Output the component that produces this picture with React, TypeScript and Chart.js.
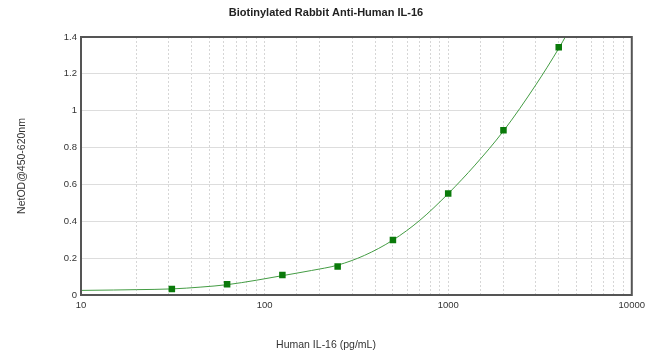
import React, { useEffect, useRef } from "react";
import { Chart, registerables } from "chart.js";

Chart.register(...registerables);

const TITLE = "Biotinylated Rabbit Anti-Human IL-16";
const X_TITLE = "Human IL-16 (pg/mL)";
const Y_TITLE = "NetOD@450-620nm";

const concentrations = [31.25, 62.5, 125, 250, 500, 1000, 2000, 4000];
const odValues = [0.032, 0.058, 0.108, 0.155, 0.299, 0.551, 0.894, 1.344];

const curveX = [10, 15, 20, 31.25, 45, 62.5, 90, 125, 180, 250, 350, 500, 700, 1000, 1400, 2000, 3000, 4000, 4400];
const curveY = [0.025, 0.027, 0.029, 0.033, 0.043, 0.056, 0.08, 0.105, 0.133, 0.162, 0.215, 0.298, 0.405, 0.55, 0.705, 0.89, 1.14, 1.338, 1.41];

const yTicks = [0, 0.2, 0.4, 0.6, 0.8, 1, 1.2, 1.4];
const xLabels = [10, 100, 1000, 10000];

const FONT = "'Liberation Sans', Arial, sans-serif";

export default function App() {
  const ref = useRef<HTMLCanvasElement>(null);

  useEffect(() => {
    document.body.style.margin = "0";
    const canvas = ref.current;
    if (!canvas) return;

    const framePlugin = {
      id: "frame",
      afterDraw(chart: any) {
        const { ctx, chartArea } = chart;
        ctx.save();
        ctx.strokeStyle = "#555555";
        ctx.lineWidth = 2;
        ctx.strokeRect(chartArea.left, chartArea.top, chartArea.right - chartArea.left, chartArea.bottom - chartArea.top);
        ctx.fillStyle = "#222222";
        ctx.textAlign = "center";
        ctx.textBaseline = "middle";
        ctx.font = `bold 11px ${FONT}`;
        ctx.fillText(TITLE, 326, 13);
        ctx.font = `10.5px ${FONT}`;
        ctx.fillStyle = "#333333";
        ctx.fillText(X_TITLE, 326, 345);
        ctx.restore();
      },
    };

    const chart = new Chart(canvas, {
      type: "line",
      data: {
        datasets: [
          {
            label: "curve",
            data: curveX.map((x, i) => ({ x, y: curveY[i] })),
            borderColor: "#449c44",
            borderWidth: 1,
            pointRadius: 0,
            cubicInterpolationMode: "monotone",
            fill: false,
            order: 2,
          },
          {
            label: "standards",
            data: concentrations.map((x, i) => ({ x, y: odValues[i] })),
            showLine: false,
            pointStyle: "rect",
            pointRadius: 4.6,
            pointBackgroundColor: "#0a7a0a",
            pointBorderColor: "#0a7a0a",
            pointBorderWidth: 0,
            order: 1,
          },
        ],
      },
      options: {
        animation: false,
        responsive: false,
        layout: { padding: { top: 37, right: 16, left: 0, bottom: 0 } },
        plugins: {
          legend: { display: false },
          title: { display: false },
          tooltip: { enabled: false },
        },
        scales: {
          x: {
            type: "logarithmic",
            min: 10,
            max: 10000,
            afterFit: (s: any) => {
              s.height = 69;
            },
            grid: {
              color: "#d6d6d6",
              lineWidth: 1,
              drawTicks: false,
            },
            border: { display: false, dash: [2, 2] },
            ticks: {
              autoSkip: false,
              maxRotation: 0,
              padding: 5,
              color: "#333333",
              font: { family: FONT, size: 9.5 },
              callback: (v: any) => {
                const n = Number(v);
                return xLabels.includes(n) ? String(n) : "";
              },
            },
          },
          y: {
            type: "linear",
            min: 0,
            max: 1.4,
            afterFit: (s: any) => {
              s.width = 81;
            },
            afterBuildTicks: (s: any) => {
              s.ticks = yTicks.map((v) => ({ value: v }));
            },
            grid: { color: "#dddddd", lineWidth: 1, drawTicks: false },
            border: { display: false },
            title: {
              display: true,
              text: Y_TITLE,
              color: "#333333",
              font: { family: FONT, size: 10.5 },
              padding: { top: 16, bottom: 0 },
            },
            ticks: {
              padding: 4,
              color: "#333333",
              font: { family: FONT, size: 9.5 },
              callback: (v: any) => String(Number(Number(v).toFixed(1))),
            },
          },
        },
      },
      plugins: [framePlugin],
    } as any);

    return () => chart.destroy();
  }, []);

  return (
    <div style={{ width: 650, height: 364 }}>
      <canvas ref={ref} width={650} height={364} style={{ display: "block" }} />
    </div>
  );
}
